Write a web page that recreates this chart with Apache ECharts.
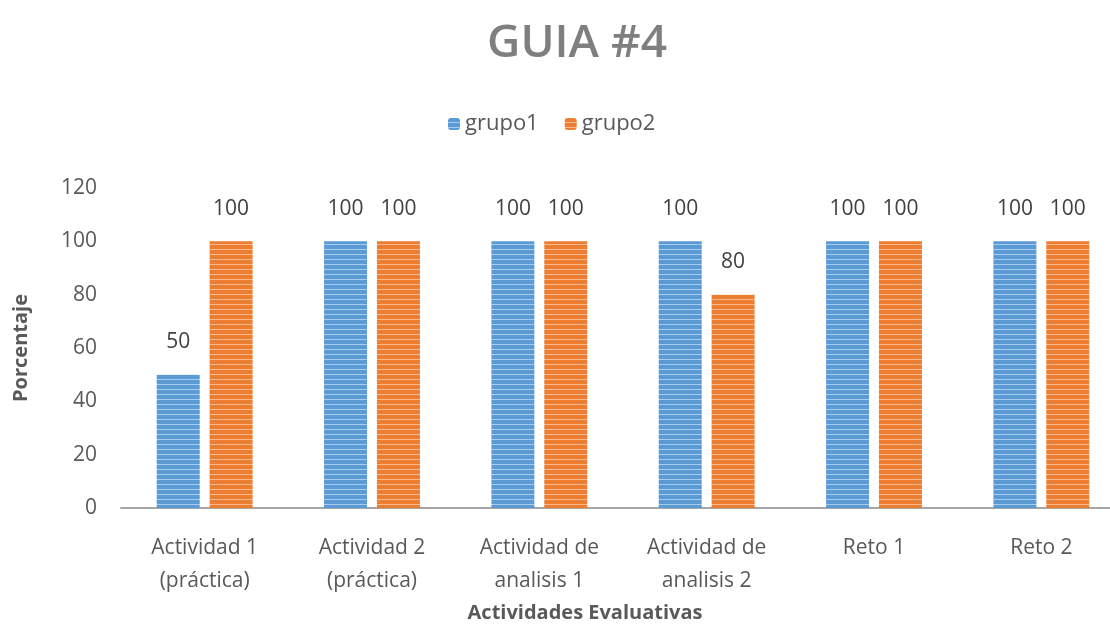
<!DOCTYPE html>
<html><head><meta charset="utf-8">
<script src="https://cdn.jsdelivr.net/npm/echarts@6/dist/echarts.min.js"></script>
<style>html,body{margin:0;padding:0;background:#fff;overflow:hidden;width:1110px;height:644px}#c{width:1125px;height:644px}</style>
</head><body><div id="c"></div>
<script>
const categories = ['Actividad 1\n(práctica)', 'Actividad 2\n(práctica)', 'Actividad de\nanalisis 1', 'Actividad de\nanalisis 2', 'Reto 1', 'Reto 2'];
const grupo1 = [50, 100, 100, 100, 100, 100];
const grupo2 = [100, 100, 100, 80, 100, 100];
const seriesNames = ['grupo1', 'grupo2'];
const yTicks = { min: 0, max: 120, interval: 20 };

function stripe(base, light) {
  const c = document.createElement('canvas');
  c.width = 4; c.height = 5;
  const g = c.getContext('2d');
  g.fillStyle = base; g.fillRect(0, 0, 4, 5);
  g.fillStyle = light; g.fillRect(0, 4, 4, 1);
  return { image: c, repeat: 'repeat' };
}
const font = '"Open Sans", "Noto Sans", sans-serif';
const chart = echarts.init(document.getElementById('c'));
const lbl = { show: true, position: 'top', distance: 22, color: '#404040', fontSize: 21, fontFamily: font };
chart.setOption({
  animation: false,
  title: [
    { text: 'GUIA #4', left: 572, textAlign: 'center', top: 16,
      textStyle: { fontSize: 46, fontWeight: 600, color: '#7f7f7f', fontFamily: font } },
    { text: 'Actividades Evaluativas', left: 580, textAlign: 'center', top: 598,
      textStyle: { fontSize: 20, fontWeight: 'bold', color: '#595959', fontFamily: font } }
  ],
  legend: {
    top: 108, left: 443, orient: 'horizontal', itemWidth: 12, itemHeight: 12, itemGap: 26,
    textStyle: { fontSize: 22, color: '#595959', fontFamily: font },
    data: seriesNames
  },
  grid: { left: 121, right: 0, top: 188, height: 320, containLabel: false },
  xAxis: {
    type: 'category', data: categories,
    axisLine: { lineStyle: { color: '#a6a6a6', width: 2 } },
    axisTick: { show: false },
    axisLabel: { color: '#595959', fontSize: 21, fontFamily: font, margin: 24, lineHeight: 33, interval: 0 }
  },
  yAxis: {
    type: 'value', min: yTicks.min, max: yTicks.max, interval: yTicks.interval,
    name: 'Porcentaje', nameLocation: 'middle', nameGap: 90,
    nameTextStyle: { fontSize: 20, fontWeight: 'bold', color: '#595959', fontFamily: font },
    axisLine: { show: false }, axisTick: { show: false }, splitLine: { show: false },
    axisLabel: { color: '#595959', fontSize: 21, fontFamily: font, margin: 24 }
  },
  series: [
    { name: seriesNames[0], type: 'bar', data: grupo1, barWidth: 43, barGap: '23%',
      itemStyle: { color: stripe('#5b9bd5', '#a9cbea') }, label: lbl },
    { name: seriesNames[1], type: 'bar', data: grupo2, barWidth: 43, barGap: '23%',
      itemStyle: { color: stripe('#ed7d31', '#f6b88f') }, label: lbl }
  ]
});
</script></body></html>
